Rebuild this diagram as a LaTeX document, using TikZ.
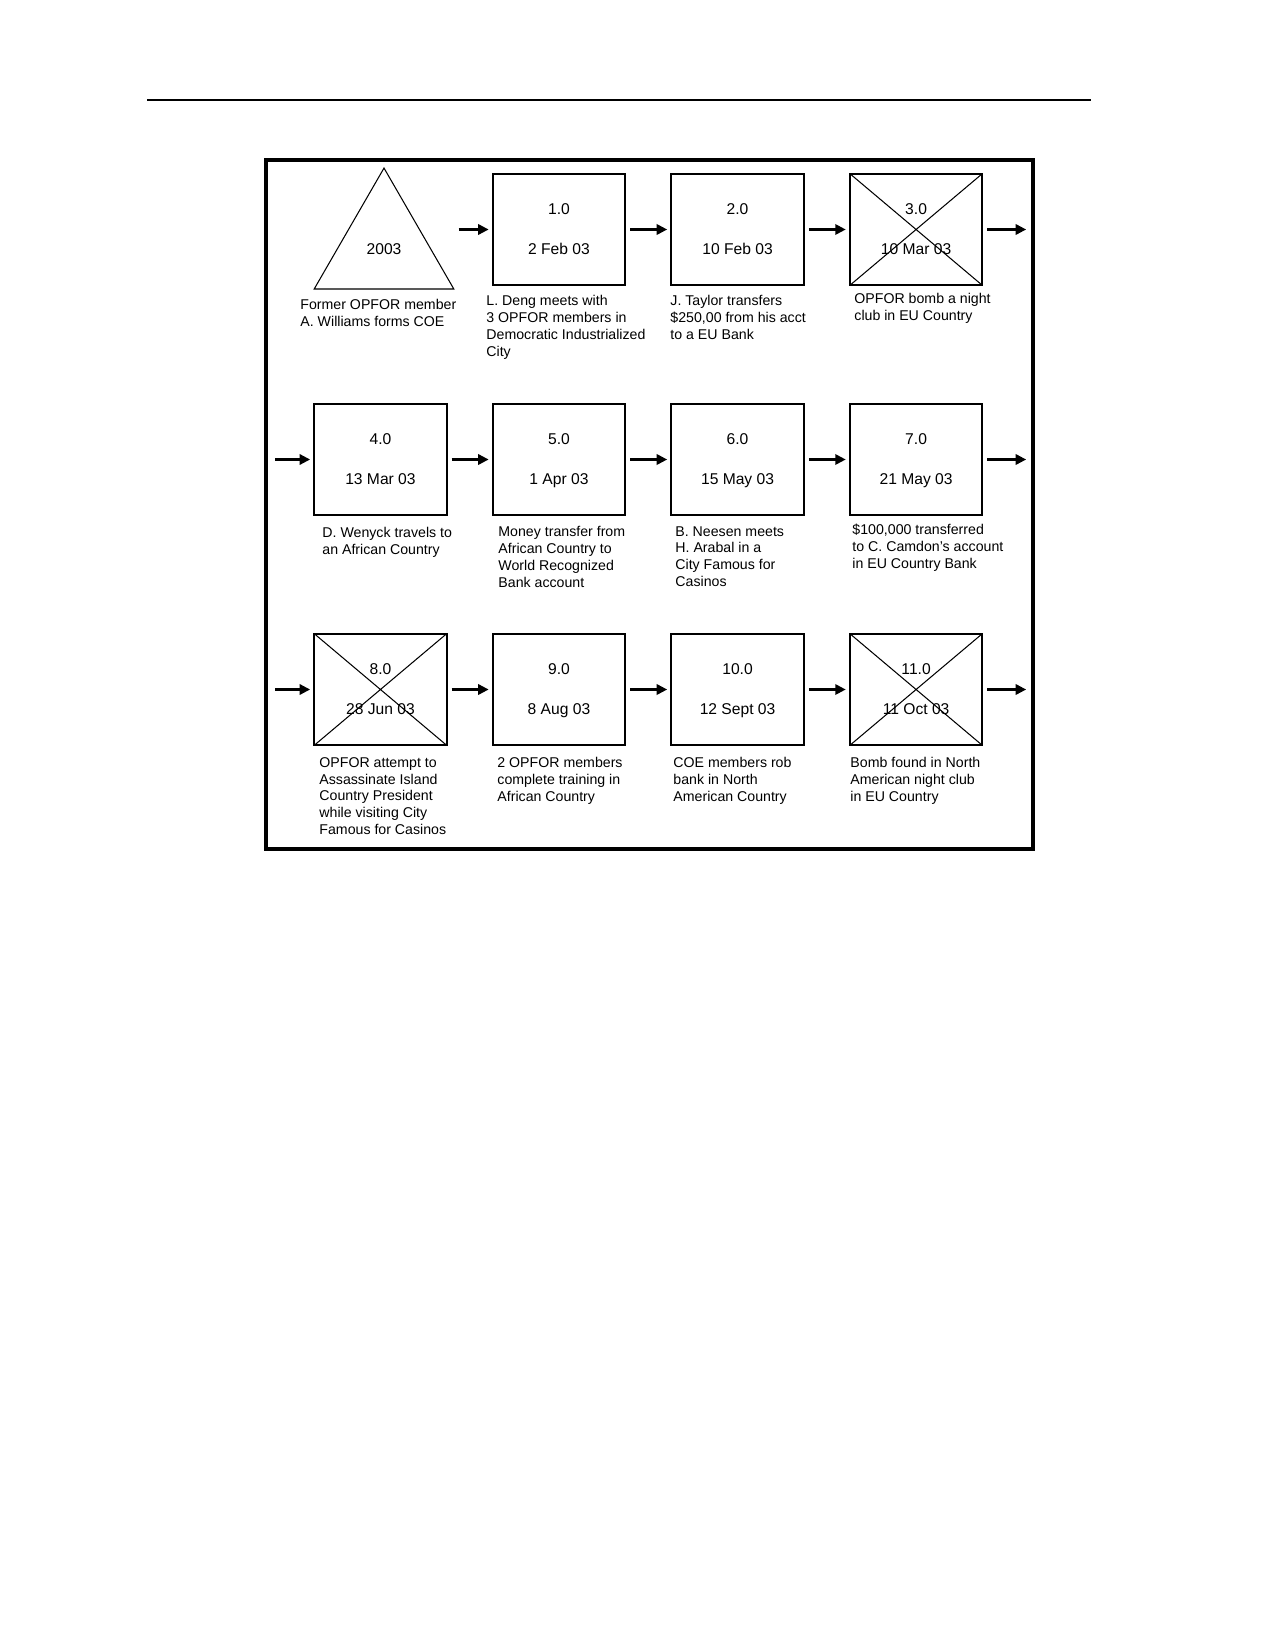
\documentclass[tikz,border=0pt]{standalone}
\usepackage{fontspec}
\setmainfont{Liberation Sans}
\usetikzlibrary{positioning,arrows.meta,shapes.geometric}

\begin{document}
\begin{tikzpicture}[x=0.48pt, y=-0.48pt, on grid, node distance=110.4pt and 85.7pt,
    event/.style={draw, line width=1pt, minimum width=63.6pt, minimum height=53.6pt,
      inner sep=0pt, align=center, text depth=0pt, font=\fontsize{7.5}{19.2}\selectfont},
    crossed/.style={event, path picture={%
        \draw[line width=0.5pt] (path picture bounding box.north west) -- (path picture bounding box.south east)
          (path picture bounding box.south west) -- (path picture bounding box.north east);}},
    note/.style={anchor=north west, inner sep=0pt, align=left, font=\fontsize{6.8}{8.06}\selectfont},
    flow/.style={-{Triangle[length=5pt,width=5pt]}, line width=1pt, shorten <=1.9pt, shorten >=1.5pt}]
  \useasboundingbox (0,0) rectangle (1275,1650);
  \draw[line width=1.4pt] (147,100) -- (1091,100);
  \draw[line width=1.9pt] (266,160) rectangle (1033,849);

  % first row
  \node[draw, regular polygon, regular polygon sides=3, minimum size=77.4pt, inner sep=0pt,
    line width=0.5pt, font=\fontsize{7.5}{9}\selectfont] (coe) at (384,248.7) {2003};%
  \node[event] (b1) at (559,229.5) {1.0\\2 Feb 03};%
  \node[event] (b2) [right=of b1] {2.0\\10 Feb 03};%
  \node[crossed] (b3) [right=of b2] {3.0\\10 Mar 03};%
  \coordinate[right=22pt of b3.east] (out1);%

  % second row
  \node[event] (b5) [below=of b1] {5.0\\1 Apr 03};%
  \node[event] (b4) [left=of b5] {4.0\\13 Mar 03};%
  \node[event] (b6) [right=of b5] {6.0\\15 May 03};%
  \node[event] (b7) [right=of b6] {7.0\\21 May 03};%
  \coordinate[left=20.2pt of b4.west] (in2);%
  \coordinate[right=22pt of b7.east] (out2);%

  % third row
  \node[event] (b9) [below=of b5] {9.0\\8 Aug 03};%
  \node[crossed] (b8) [left=of b9] {8.0\\28 Jun 03};%
  \node[event] (b10) [right=of b9] {10.0\\12 Sept 03};%
  \node[crossed] (b11) [right=of b10] {11.0\\11 Oct 03};%
  \coordinate[left=20.2pt of b8.west] (in3);%
  \coordinate[right=22pt of b11.east] (out3);%

  \draw[flow] (coe.corner 3 |- b1.west) -- (b1.west);%
  \draw[flow] (b1) -- (b2);%
  \draw[flow] (b2) -- (b3);%
  \draw[flow] (b3) -- (out1);%
  \draw[flow] (in2) -- (b4);%
  \draw[flow] (b4) -- (b5);%
  \draw[flow] (b5) -- (b6);%
  \draw[flow] (b6) -- (b7);%
  \draw[flow] (b7) -- (out2);%
  \draw[flow] (in3) -- (b8);%
  \draw[flow] (b8) -- (b9);%
  \draw[flow] (b9) -- (b10);%
  \draw[flow] (b10) -- (b11);%
  \draw[flow] (b11) -- (out3);%

  % captions
  \node[note] (n0) at (300,299) {Former OPFOR member\\A. Williams forms COE};%
  \node[note] (n1) at (486,295) {L. Deng meets with\\3 OPFOR members in\\Democratic Industrialized\\City};%
  \node[note] (n2) at (670,295) {J. Taylor transfers\\\$250,00 from his acct\\to a EU Bank};%
  \node[note] (n3) at (854,293) {OPFOR bomb a night\\club in EU Country};%
  \node[note] (n4) at (322,527) {D. Wenyck travels to\\an African Country};%
  \node[note] (n5) at (498,526) {Money transfer from\\African Country to\\World Recognized\\Bank account};%
  \node[note] (n6) at (675,526) {B. Neesen meets\\H. Arabal in a\\City Famous for\\Casinos};%
  \node[note] (n7) at (852,524) {\$100,000 transferred\\to C. Camdon's account\\in EU Country Bank};%
  \node[note] (n8) at (319,757) {OPFOR attempt to\\Assassinate Island\\Country President\\while visiting City\\Famous for Casinos};%
  \node[note] (n9) at (497,757) {2 OPFOR members\\complete training in\\African Country};%
  \node[note] (n10) at (673,757) {COE members rob\\bank in North\\American Country};%
  \node[note] (n11) at (850,757) {Bomb found in North\\American night club\\in EU Country};%
\end{tikzpicture}
\end{document}
